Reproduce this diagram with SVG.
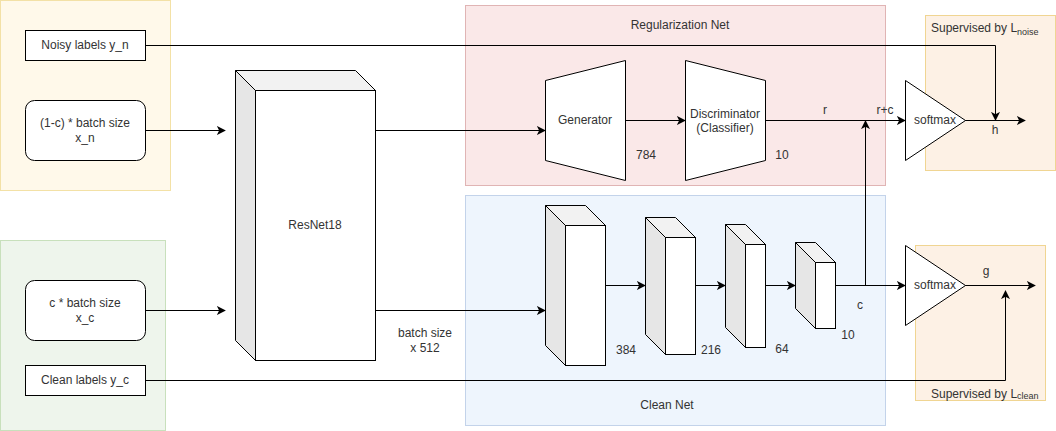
<svg xmlns="http://www.w3.org/2000/svg" width="1056" height="431" viewBox="0 0 1056 431">
<style>
text{font-family:"Liberation Sans",Arial,sans-serif;font-size:12px;fill:#333;}
.c{text-anchor:middle;}
.box{fill:#fff;stroke:#000;stroke-width:1;}
.side{fill:#e6e6e6;stroke:#000;stroke-width:1;}
.top{fill:#f2f2f2;stroke:#000;stroke-width:1;}
.ln{fill:none;stroke:#000;stroke-width:1;}
.arr{fill:none;stroke:#000;stroke-width:1;marker-end:url(#ah);}
</style>
<defs>
<marker id="ah" viewBox="0 0 10 10" refX="9" refY="5" markerWidth="9" markerHeight="9" markerUnits="userSpaceOnUse" orient="auto">
<path d="M0,0 L10,5 L0,10 L2.5,5 z" fill="#000"/>
</marker>
</defs>
<rect width="1056" height="431" fill="#fff"/>
<!-- groups/backgrounds -->
<g id="noisy-group"><rect x="0.5" y="0.5" width="170" height="190" fill="#fff9ea" stroke="#f3e1a6"/></g>
<g id="clean-group"><rect x="0.5" y="240.5" width="165" height="190" fill="#eef5ec" stroke="#c8e0bc"/></g>
<g id="reg-net"><rect x="465.5" y="5.5" width="420" height="180" fill="#fae8e8" stroke="#e0b4b4"/><text class="c" x="680" y="29">Regularization Net</text></g>
<g id="clean-net"><rect x="465.5" y="195.5" width="420" height="230" fill="#eef5fd" stroke="#c3d3ea"/><text class="c" x="667" y="409">Clean Net</text></g>
<g id="sup-noise"><rect x="925.5" y="15.5" width="130" height="155" fill="#fdf1e5" stroke="#f0d592"/><text x="931" y="32">Supervised by L<tspan font-size="9" dy="3">noise</tspan></text></g>
<g id="sup-clean"><rect x="915.5" y="245.5" width="130" height="155" fill="#fdf1e5" stroke="#f0d592"/><text x="931" y="398">Supervised by L<tspan font-size="9" dy="1">clean</tspan></text></g>

<!-- connectors -->
<g id="connectors">
<polyline class="arr" points="145,45.5 995.5,45.5 995.5,120"/>
<line class="arr" x1="145" y1="130.5" x2="225" y2="130.5"/>
<line class="arr" x1="145" y1="310.5" x2="225" y2="310.5"/>
<polyline class="arr" points="145,380.5 1005.5,380.5 1005.5,291"/>
<line class="arr" x1="375" y1="130.5" x2="545" y2="130.5"/>
<line class="arr" x1="375" y1="310.5" x2="545" y2="310.5"/>
<line class="arr" x1="625" y1="120.5" x2="685" y2="120.5"/>
<line class="arr" x1="765" y1="120.5" x2="905" y2="120.5"/>
<polyline class="arr" points="865.5,285.5 865.5,121"/>
<line class="arr" x1="965" y1="120.5" x2="1025" y2="120.5"/>
<line class="arr" x1="605" y1="285.5" x2="645" y2="285.5"/>
<line class="arr" x1="695" y1="285.5" x2="725" y2="285.5"/>
<line class="arr" x1="765" y1="285.5" x2="795" y2="285.5"/>
<line class="arr" x1="835" y1="285.5" x2="905" y2="285.5"/>
<line class="arr" x1="965" y1="285.5" x2="1035" y2="285.5"/>
</g>

<!-- nodes -->
<g id="noisy-labels"><rect class="box" x="25.5" y="30.5" width="120" height="30"/><text class="c" x="85" y="49">Noisy labels y_n</text></g>
<g id="xn"><rect class="box" x="25.5" y="100.5" width="120" height="60" rx="9"/><text class="c" x="85" y="127">(1-c) * batch size</text><text class="c" x="85" y="142">x_n</text></g>
<g id="xc"><rect class="box" x="25.5" y="280.5" width="120" height="60" rx="9"/><text class="c" x="85" y="307">c * batch size</text><text class="c" x="85" y="322">x_c</text></g>
<g id="clean-labels"><rect class="box" x="25.5" y="365.5" width="120" height="30"/><text class="c" x="85" y="384">Clean labels y_c</text></g>

<g id="resnet">
<polygon class="side" points="235.5,70.5 255.5,90.5 255.5,360.5 235.5,340.5"/>
<polygon class="top" points="235.5,70.5 355.5,70.5 375.5,90.5 255.5,90.5"/>
<rect class="box" x="255.5" y="90.5" width="120" height="270"/>
<text class="c" x="315" y="229">ResNet18</text>
</g>
<text class="c" x="425" y="337">batch size</text>
<text class="c" x="425" y="352">x 512</text>

<g id="generator"><polygon class="box" points="545.5,80.5 625.5,60.5 625.5,180.5 545.5,160.5"/><text class="c" x="585" y="124">Generator</text></g>
<text class="c" x="646" y="159">784</text>
<g id="discriminator"><polygon class="box" points="685.5,60.5 765.5,80.5 765.5,160.5 685.5,180.5"/><text class="c" x="725" y="118">Discriminator</text><text class="c" x="725" y="132">(Classifier)</text></g>
<text class="c" x="782" y="159">10</text>
<text class="c" x="825" y="114">r</text>
<text class="c" x="885" y="114">r+c</text>

<g id="softmax-h"><polygon class="box" points="905.5,80.5 965.5,120.5 905.5,160.5"/><text class="c" x="935" y="124">softmax</text></g>
<text class="c" x="995" y="134">h</text>

<g id="block1">
<polygon class="side" points="545.5,205.5 565.5,225.5 565.5,365.5 545.5,345.5"/>
<polygon class="top" points="545.5,205.5 585.5,205.5 605.5,225.5 565.5,225.5"/>
<rect class="box" x="565.5" y="225.5" width="40" height="140"/>
</g>
<text class="c" x="626" y="354">384</text>
<g id="block2">
<polygon class="side" points="645.5,217.5 665.5,237.5 665.5,354.5 645.5,334.5"/>
<polygon class="top" points="645.5,217.5 675.5,217.5 695.5,237.5 665.5,237.5"/>
<rect class="box" x="665.5" y="237.5" width="30" height="117"/>
</g>
<text class="c" x="711" y="354">216</text>
<g id="block3">
<polygon class="side" points="725.5,224.5 745.5,244.5 745.5,347.5 725.5,327.5"/>
<polygon class="top" points="725.5,224.5 745.5,224.5 765.5,244.5 745.5,244.5"/>
<rect class="box" x="745.5" y="244.5" width="20" height="103"/>
</g>
<text class="c" x="782" y="353">64</text>
<g id="block4">
<polygon class="side" points="795.5,242.5 815.5,262.5 815.5,328.5 795.5,308.5"/>
<polygon class="top" points="795.5,242.5 815.5,242.5 835.5,262.5 815.5,262.5"/>
<rect class="box" x="815.5" y="262.5" width="20" height="66"/>
</g>
<text class="c" x="848" y="339">10</text>
<text class="c" x="860" y="309">c</text>

<g id="softmax-g"><polygon class="box" points="905.5,245.5 965.5,285.5 905.5,325.5"/><text class="c" x="935" y="289">softmax</text></g>
<text class="c" x="986" y="275">g</text>
</svg>
